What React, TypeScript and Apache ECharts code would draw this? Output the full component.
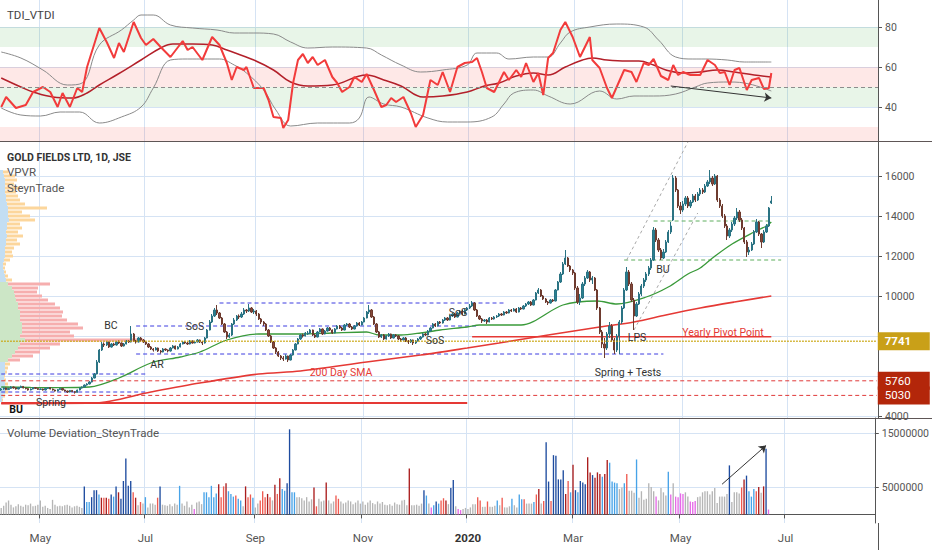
import React, { useEffect, useRef } from "react";
import * as echarts from "echarts";

const FONT = "Roboto, 'Liberation Sans', Arial, sans-serif";

// ---------- daily candles per month: [open, close, low, high] ----------
const apr19 = [[5300,5350,5260,5400],[5350,5400,5310,5440],[5400,5320,5290,5420],[5320,5380,5300,5410],[5380,5450,5350,5490],[5450,5400,5370,5470],[5400,5350,5320,5420],[5350,5420,5330,5450],[5420,5480,5400,5520],[5480,5400,5380,5500],[5400,5370,5330,5420],[5370,5300,5270,5390],[5300,5350,5280,5380],[5350,5420,5330,5450],[5420,5380,5350,5440],[5380,5330,5300,5400]];
const may19 = [[5330,5350,5300,5380],[5350,5300,5270,5370],[5300,5380,5280,5400],[5380,5420,5350,5450],[5420,5350,5330,5440],[5350,5300,5270,5370],[5300,5250,5220,5320],[5250,5320,5230,5350],[5320,5380,5300,5400],[5380,5300,5280,5400],[5300,5250,5220,5320],[5250,5200,5150,5270],[5200,5280,5180,5300],[5280,5220,5200,5300],[5220,5180,5120,5240],[5180,5300,5170,5320],[5300,5400,5280,5420],[5400,5450,5370,5480],[5450,5550,5430,5580],[5550,5600,5520,5640],[5600,5700,5580,5740],[5700,5900,5680,5950],[5900,6100,5880,6150]];
const jun19 = [[6100,6700,6080,6800],[6700,7300,6650,7350],[7300,7600,7250,7700],[7600,7550,7450,7680],[7550,7700,7500,7750],[7700,7450,7400,7720],[7450,7600,7420,7650],[7600,7550,7500,7660],[7550,7700,7520,7750],[7700,7650,7600,7780],[7650,7500,7450,7680],[7500,7600,7470,7650],[7600,7750,7580,7800],[7750,7700,7650,7800],[7700,8100,7680,8500],[8100,7750,7700,8150],[7750,7700,7620,7800],[7700,7900,7680,7950],[7900,7800,7720,7950],[7800,7700,7650,7850]];
const jul19 = [[7700,7600,7550,7720],[7600,7450,7400,7650],[7450,7350,7300,7500],[7350,7300,7220,7400],[7300,7400,7280,7450],[7400,7250,7200,7420],[7250,7200,7120,7300],[7200,7350,7180,7400],[7350,7300,7250,7380],[7300,7250,7180,7330],[7250,7400,7220,7450],[7400,7500,7380,7550],[7500,7350,7320,7520],[7350,7450,7330,7500],[7450,7600,7430,7650],[7600,7700,7580,7750],[7700,7650,7600,7730],[7650,7600,7550,7700],[7600,7750,7580,7800],[7750,7650,7620,7780],[7650,7700,7630,7760],[7700,7800,7680,7850],[7800,7700,7650,7820]];
const aug19 = [[7700,7650,7550,7750],[7650,7900,7620,7950],[7900,8300,7880,8350],[8300,8700,8280,8800],[8700,9000,8650,9100],[9000,9300,8950,9400],[9300,9150,9050,9550],[9150,8900,8850,9200],[8900,8600,8550,8950],[8600,8200,8150,8650],[8200,7950,7850,8250],[7950,8050,7900,8150],[8050,8600,8000,8650],[8600,8800,8550,8900],[8800,9000,8750,9050],[9000,8950,8850,9080],[8950,9100,8900,9200],[9100,9300,9050,9400],[9300,9250,9150,9350],[9250,9400,9200,9600],[9400,9200,9150,9450],[9200,9250,9100,9350]];
const sep19 = [[9250,9100,9000,9300],[9100,8850,8800,9150],[8850,8700,8600,8900],[8700,8600,8500,8750],[8600,8300,8250,8650],[8300,8000,7950,8350],[8000,7700,7650,8050],[7700,7400,7350,7750],[7400,7200,7100,7450],[7200,7000,6950,7250],[7000,6900,6800,7050],[6900,6850,6750,7000],[6850,7000,6820,7080],[7000,6800,6700,7020],[6800,7050,6780,7100],[7050,7300,7020,7350],[7300,7600,7280,7650],[7600,7850,7580,7900],[7850,8050,7800,8100],[8050,8000,7920,8120],[8000,8150,7980,8200]];
const oct19 = [[8100,8150,8050,8250],[8150,8300,8100,8350],[8300,8050,8000,8320],[8050,7950,7900,8100],[7950,8200,7930,8250],[8200,8350,8180,8400],[8350,8100,8050,8380],[8100,8250,8080,8300],[8250,8400,8220,8450],[8400,8300,8250,8450],[8300,8150,8100,8330],[8150,8350,8130,8400],[8350,8500,8330,8550],[8500,8400,8350,8550],[8400,8300,8250,8450],[8300,8550,8280,8600],[8550,8600,8500,8650],[8600,8450,8400,8650],[8450,8350,8300,8500],[8350,8500,8330,8550],[8500,8650,8480,8700],[8650,8550,8500,8700],[8550,8700,8530,8750]];
const nov19 = [[8700,8900,8680,8950],[8900,9200,8880,9250],[9200,9300,9100,9550],[9300,8950,8900,9350],[8950,8600,8550,9000],[8600,8200,8150,8650],[8200,7950,7900,8250],[7950,8050,7900,8100],[8050,7850,7800,8100],[7850,8000,7820,8050],[8000,8100,7950,8150],[8100,7900,7850,8120],[7900,8050,7880,8100],[8050,8000,7950,8100],[8000,7850,7800,8050],[7850,7800,7720,7900],[7800,7900,7780,7950],[7900,7750,7700,7950],[7750,7700,7600,7800],[7700,7800,7650,7850],[7800,7650,7550,7820]];
const dec19 = [[7650,7750,7600,7800],[7750,7850,7720,7900],[7850,7950,7800,8000],[7950,8100,7920,8150],[8100,8050,8000,8150],[8050,8250,8030,8300],[8250,8400,8220,8450],[8400,8600,8380,8650],[8600,8500,8450,8650],[8500,8700,8480,8750],[8700,8650,8600,8750],[8650,8800,8620,8850],[8800,8900,8750,8950],[8900,8800,8750,8950],[8800,9000,8780,9050],[9000,9100,8950,9150],[9100,8950,8900,9150],[8950,9150,8930,9200],[9150,9250,9100,9300],[9250,9100,9050,9300],[9100,9300,9080,9350],[9300,9400,9250,9450]];
const jan20 = [[9400,9500,9350,9600],[9500,9650,9450,9750],[9650,9300,9250,9700],[9300,9000,8950,9350],[9000,8850,8800,9050],[8850,8750,8650,8900],[8750,8800,8700,8850],[8800,8700,8600,8850],[8700,8900,8680,8950],[8900,8850,8800,8950],[8850,8950,8820,9000],[8950,9000,8900,9050],[9000,9100,8950,9150],[9100,9050,9000,9150],[9050,9200,9030,9250],[9200,9150,9100,9250],[9150,9300,9130,9350],[9300,9250,9200,9350],[9250,9350,9230,9400],[9350,9200,9150,9400],[9200,9400,9180,9450],[9400,9350,9300,9450],[9350,9500,9330,9550]];
const feb20 = [[9500,9600,9450,9650],[9600,9700,9550,9750],[9700,9550,9500,9750],[9550,9800,9530,9850],[9800,10150,9780,10200],[10150,10300,10100,10400],[10300,10000,9950,10350],[10000,9850,9800,10050],[9850,9700,9650,9900],[9700,9650,9550,9750],[9650,9800,9620,9850],[9800,9750,9700,9850],[9750,10300,9730,10350],[10300,10700,10280,10750],[10700,11100,10650,11200],[11100,11600,11050,11700],[11600,11900,11550,12300],[11900,11500,11450,11950],[11500,11300,11200,11550],[11300,11150,11050,11350]];
const mar20 = [[11150,10400,10300,11200],[10400,9700,9600,10500],[9700,9900,9550,10100],[9900,10600,9850,10700],[10600,10900,10500,11000],[10900,11200,10850,11300],[11200,10800,10700,11250],[10800,10900,10600,11000],[10900,10300,10250,10950],[10300,9400,9300,10350],[9400,8200,8100,9450],[8200,7600,7400,8300],[7600,7400,6900,7900],[7400,8100,7300,8200],[8100,8500,7900,8700],[8500,7800,7700,8600],[7800,7300,7100,7900],[7300,8000,7200,8100],[8000,8700,7100,8800],[8700,9400,8600,9500],[9400,10300,9350,10400],[10300,11200,10250,11450]];
const apr20 = [[11200,10600,10500,11300],[10600,9800,9700,10700],[9800,9000,8300,9900],[9000,9600,8950,9700],[9600,10100,9550,10200],[10100,10500,10000,10600],[10500,10800,10400,10900],[10800,11100,10700,11200],[11100,11400,11000,11500],[11400,11800,11300,11900],[11800,13300,11750,13450],[13300,12800,12700,13400],[12800,12300,12200,12900],[12300,11900,11800,12400],[11900,12200,11850,12350],[12200,12700,12150,12800],[12700,13200,12650,13300],[13200,13500,13100,13700],[13800,15900,13750,16050],[15900,15300,15200,16000],[15300,14500,14400,15350],[14500,14300,14100,14700]];
const may20 = [[14300,14600,14200,14750],[14600,14900,14500,15000],[14900,14500,14400,15000],[14500,14700,14400,14800],[14700,15000,14650,15100],[15000,14800,14700,15100],[14800,15100,14750,15200],[15100,15300,15000,15400],[15300,15200,15100,15400],[15200,15500,15150,15600],[15500,15700,15450,15800],[15700,15900,15600,16300],[15900,15600,15500,16000],[15600,16000,15550,16100],[16000,14800,14700,16050],[14800,14500,14400,14900],[14500,14000,13900,14600],[14000,13500,13400,14100],[13500,13000,12800,13600],[13000,13300,12900,13400],[13300,13600,13200,13700]];
const jun20 = [[13600,13900,13500,14000],[13900,14200,13800,14400],[14200,13800,13700,14300],[13800,13400,13300,13900],[13400,12700,12600,13450],[12700,12200,11950,12800],[12200,12300,12050,12450],[12300,12600,12250,12700],[12600,13200,12550,13300],[13200,13700,13150,13850],[13700,13100,13000,13750],[13100,12700,12400,13150],[12700,13200,12650,13300],[13200,13500,13150,13600],[13500,14400,13450,14450],[14650,14750,14600,15000]];

// ---------- moving averages: [barIndex, value] ----------
const sma50 = [[0,5450],[12,5430],[24,5420],[36,5450],[48,5900],[61,6650],[73,6950],[81,7200],[92,7800],[105,8100],[122,8100],[135,8150],[149,8200],[154,8050],[163,8050],[171,8150],[179,8300],[190,8450],[195,8550],[212,8550],[229,9550],[243,9750],[251,9600],[263,9950],[272,10450],[280,11100],[285,11400],[290,11900],[298,12600],[307,13200],[312,13500],[314,13700]];
const sma200 = [[0,4620],[38,4650],[61,5200],[81,5650],[105,6100],[122,6250],[149,6700],[171,7050],[190,7400],[203,7650],[223,8050],[244,8450],[258,8700],[271,9050],[285,9400],[299,9700],[314,10000]];

// ---------- TDI: [barIndex, value] ----------
const tdiPrice = [[0,40],[2,45],[6,39.5],[10,41],[13,47.5],[17,50],[20,47.5],[23,40],[25,47],[28,40],[31,49.5],[33,47.5],[35,60],[40,79.5],[43,72.5],[46,64.5],[48,72],[50,67.5],[54,82.5],[57,74.5],[59,71],[62,74],[65,70],[69,65],[74,73],[76,68.5],[78,70],[82,63.5],[86,75],[89,71],[92,62],[94,53.5],[96,60],[99,58.5],[100,60],[103,49.5],[107,49.5],[109,43.5],[111,35],[114,34.5],[115,29.5],[117,33.5],[119,52],[121,63.5],[123,66.5],[125,62],[127,65],[129,61],[132,63.5],[135,55],[137,52],[139,47.5],[142,50],[144,55],[147,52.5],[149,56.5],[152,48.5],[155,40],[157,41],[159,44.5],[161,42.5],[164,45],[167,37],[169,30],[172,36],[175,53.5],[178,51],[180,57.5],[183,47.5],[186,60],[189,62],[192,62.5],[194,64.5],[196,57.5],[198,49.5],[201,47.5],[205,57.5],[207,53.5],[210,58.5],[212,55],[214,62],[217,52.5],[219,57],[221,46],[223,64.5],[225,67],[228,78.5],[230,82.5],[233,75],[236,65],[240,75],[241,63.5],[244,59.5],[247,49.5],[249,44.5],[254,58.5],[257,57.5],[259,52.5],[262,62],[264,61],[266,64],[269,55.5],[272,53.5],[274,61],[276,56],[278,57.5],[281,56],[285,56],[288,63.5],[291,61],[293,57],[295,57.5],[297,51],[299,58.5],[301,59.5],[304,48.5],[306,53.5],[309,54.5],[311,49],[313,49.5],[314,57]];
const tdiSignal = [[0,54.5],[8,50],[13,47.5],[21,45],[29,44.5],[35,47],[40,51],[47,56],[57,63.5],[65,69.5],[70,71.5],[78,71.5],[86,71],[92,68.5],[103,63.5],[111,58.5],[118,52.5],[125,50.5],[135,51],[149,56],[156,53.5],[163,50.5],[172,45],[180,45.5],[190,47.5],[197,50.5],[203,52],[210,55.5],[217,57],[223,56],[230,60],[237,63.5],[241,64.5],[247,63.5],[255,63],[260,63],[266,61],[271,58.5],[278,57],[285,57.5],[292,58.5],[299,57.5],[307,56],[314,55]];
const tdiUpper = [[0,67.5],[8,64.5],[17,58.5],[27,51],[33,52],[40,71],[49,78.5],[54,83.5],[57,86],[62,86],[69,81],[78,79.5],[88,78.5],[95,77],[103,77],[111,76.5],[118,72.5],[125,69.5],[135,70],[149,69.5],[155,66],[163,61],[171,57.5],[180,58.5],[190,61],[194,67],[202,67],[207,64],[217,65],[223,65],[228,72],[232,77.5],[240,80],[251,81.5],[262,80],[268,73.5],[275,65],[282,64],[287,64],[296,63.5],[303,62.5],[314,62.5]];
const tdiLower = [[0,39.5],[8,36],[16,35.5],[24,37.5],[32,37.5],[40,32],[49,35],[57,40],[62,49.5],[69,63.5],[76,64],[89,64],[95,61],[100,57],[107,48.5],[112,38.5],[118,30.5],[129,32],[142,32],[146,34.5],[150,45],[156,41.5],[163,40],[174,34.5],[182,32.5],[190,32.5],[200,35],[205,41.5],[209,47],[217,48.5],[223,45.5],[232,41.5],[244,48],[251,44],[258,45.5],[266,45.5],[275,46.5],[283,50],[288,52],[297,52.5],[305,51.5],[314,48]];
const tdiZones = [[70, 80, "rgba(76,175,80,0.13)"], [50, 60, "rgba(244,67,54,0.12)"], [40, 50, "rgba(76,175,80,0.13)"], [23, 30, "rgba(244,67,54,0.12)"]];

// ---------- axis ticks ----------
const tdiTicks = [40, 60, 80];
const priceTicks = [4000, 6000, 8000, 10000, 12000, 14000, 16000];
const priceTickLabels = [4000, 10000, 12000, 14000, 16000]; // 6000 / 8000 sit under the level boxes
const volTicks = [5, 15]; // millions

// ---------- volume deviation (millions) + colour code ----------
const vol2019 = [1.2,1.6,2.2,2.6,1.8,1.3,1.5,1.9,1.6,1.4,1.8,1.7,2.0,1.5,1.6,1.8,2.6,1.4,1.6,1.2,1.0,2.7,1.8,1.5,1.6,1.5,1.7,1.8,1.6,1.3,1.5,1.6,1.4,1.2,
  5.2,2.3,2.3,3.2,4.5,4.5,3.7,3.1,3.1,3.1,2.9,3.7,3.3,5.2,4.1,2.9,6.2,10.4,5.3,6.2,4.1,3.1,1.7,2.3,2.0,3.2,1.3,2.0,2.0,1.8,3.1,5.2,1.8,
  1.7,1.6,1.9,1.5,2.0,1.8,5.3,2.0,1.6,2.4,1.3,1.8,1.0,2.2,2.4,1.9,4.1,4.1,3.2,5.3,3.2,3.9,5.6,3.2,5.2,5.8,4.3,3.8,3.3,3.5,2.9,2.6,1.5,
  5.2,3.2,3.7,3.1,1.3,2.0,2.6,4.3,3.2,3.8,3.2,2.6,5.5,3.8,6.7,4.7,4.4,5.8,15.8,4.1,4.1,3.2,3.2,3.0,2.6,3.2,2.4,2.8,5.0,1.5,2.9,2.4,2.6,5.9,2.6,2.0,2.4,3.5,2.9,
  2.4,2.0,2.2,2.6,2.4,1.9,2.2,2.6,2.0,2.4,1.8,2.2,2.6,2.1,1.9,2.4,2.0,2.3,1.8,1.7,1.9,1.6,2.2,1.9,1.8,2.6,2.7,1.7,
  8.5,1.7,1.7,1.8,1.6,2.0,4.5,3.5,2.0,1.3,1.7,2.4,2.0,2.6,3.0,2.6,1.9,4.9,6.4,1.5,1.0,0.8,1.0,1.2];
const volCode2019 = "gggggggggggggggggggggggggggggggggg BbbBBBbRrRrBbBRBBBBBrRgrgbggggrBg gggggg b ggggg m ggg bbbbbb RrrR bbbrbb g Rrrb gg rrrRr g RrRbbBBbb ggggggg Rr ggg R ggg rr gggggggggggggggggggggggggggg R ggggg Bb g m bBbrrR g BB g mm gg";
const vol2020 = [1.0,1.3,1.9,1.9,3.2,2.6,1.4,1.4,2.4,1.4,1.4,1.6,2.6,1.7,3.1,1.3,1.3,1.5,2.9,1.7,1.3,3.7,2.8,2.8,2.0,2.0,2.0,2.3,3.7,4.7,2.0,2.5,13.4,6.1,2.5,
  11.0,10.9,6.5,6.5,8.2,3.8,6.2,4.1,9.2,4.5,4.1,6.2,5.9,5.6,10.6,7.8,7.3,6.8,7.8,7.5,7.0,7.5,10.1,9.6,6.1,5.9,5.8,4.7,5.0,5.8,7.5,4.4,4.4,4.0,10.2,
  3.1,4.3,2.7,2.9,5.8,5.1,4.3,3.3,2.6,4.9,4.1,3.5,7.9,3.7,5.8,3.3,3.2,3.9,3.8,4.1,3.3,2.4,2.3,2.5,
  3.2,3.3,4.1,4.3,4.3,3.7,4.3,4.9,2.1,3.3,3.3,3.3,3.8,9.1,2.3,4.1,4.1,3.9,5.0,6.5,7.2,4.3,3.3,4.7,4.3,5.1,4.0,5.2,12.2,0.9];
const volCode2020 = "gggg rr gg r ggg b g r ggg b gg bb r ggg b r R g r BB r BBBBB R r b R B b BBB RR B RRR b RR bbbb gg b r ggg b ggggggg m gggg b m g mmmm gg mmm ggggggggggggg B gggg r R B bbb r R g R B m";
const volPalette = { g: "#b5b5b5", b: "#47a3e8", B: "#1d4b9f", r: "#ef5a50", R: "#ab1d1d", m: "#e66ae8" };

// ---------- VPVR rows: [price, up volume, total volume] ----------
const vpRows = [[16200,3,8],[16000,4,15],[15800,5,17],[15600,5,14],[15400,5,20],[15200,5,16],[15000,6,18],[14800,6,20],[14600,7,25],[14400,8,47],[14200,8,22],[14000,8,30],[13800,9,35],[13600,7,20],[13400,7,22],[13200,6,18],[13000,7,23],[12800,6,17],[12600,6,20],[12400,5,14],[12200,5,12],[12000,5,13],[11800,4,10],[11600,3,6],[11400,3,5],[11200,4,6],[11000,5,8],[10800,6,12],
  [10600,8,50],[10400,12,38],[10200,14,37],[10000,15,42],[9800,16,48],[9600,18,55],[9400,18,60],[9200,20,63],[9000,20,62],[8800,20,67],[8600,22,78],[8400,22,83],[8200,22,70],[8000,20,74],[7800,25,143],[7600,20,60],[7400,18,50],[7200,15,40],[7000,12,33],[6800,8,20],
  [6600,5,10],[6400,5,8],[6200,5,7],[6000,4,5],[5800,4,6],[5600,5,8],[5400,6,9],[5200,5,8],[5000,3,5],[4800,2,3]];
const VP_ROW = 200;
const VA_LOW = 6700;
const VA_HIGH = 10700;

// ---------- drawn levels: [fromBar, toBar, price] ----------
const rangeLines = [[0, 59, 6100], [0, 59, 5200], [55, 194, 8500], [89, 205, 9650], [55, 270, 7100]];
const buLine = [0, 190, 4650];
const pivotLine = [192, 314, 7960];
const greenLines = [[266, 313, 13750], [254, 318, 11800]];
const channelLines = [[255, 11800, 280, 17700], [258, 8300, 284, 14150]];
const supportLevels = [5760, 5030];
const pocLevel = 7741;
const tdiArrow = [273, 50.5, 314, 44.5];
const volArrow = [295, 5.6, 313, 12.8];

// ---------- trading-day categories ----------
const MONTHS = ["Jan","Feb","Mar","Apr","May","Jun","Jul","Aug","Sep","Oct","Nov","Dec"];
const N_DAYS = 358;
const days: string[] = [];
for (let t = Date.UTC(2019, 3, 9); days.length < N_DAYS; t += 86400000) {
  const d = new Date(t);
  const wd = d.getUTCDay();
  if (wd !== 0 && wd !== 6) days.push(d.toISOString().slice(0, 10));
}
const isMark = (i: number) => {
  if (i <= 0 || i >= days.length) return false;
  const m = +days[i].slice(5, 7);
  const pm = +days[i - 1].slice(5, 7);
  return m !== pm && m % 2 === 1;
};

const GRID = "#d5e3f4";
const AXIS = "#555555";

export default function App() {
  const ref = useRef<HTMLDivElement>(null);
  useEffect(() => {
    if (!ref.current) return;
    const chart = echarts.init(ref.current, null, { renderer: "svg" });

    const candles = [...apr19, ...may19, ...jun19, ...jul19, ...aug19, ...sep19, ...oct19, ...nov19, ...dec19, ...jan20, ...feb20, ...mar20, ...apr20, ...may20, ...jun20];
    const vols = [...vol2019, ...vol2020];
    const codes = (volCode2019 + volCode2020).replace(/\s+/g, "");
    const volData = vols.map((v, i) => ({ value: v, itemStyle: { color: (volPalette as any)[codes[i]] || volPalette.g } }));
    const LAST = days.length - 1;

    const segLine = (x1: number, y1: number, x2: number, y2: number, lineStyle: any, z = 4) => ({
      type: "line", xAxisIndex: 1, yAxisIndex: 1, data: [[x1, y1], [x2, y2]],
      showSymbol: false, symbol: "none", silent: true, z, lineStyle,
    });

    const levelLine = (v: number, lineStyle: any, box: string, bold = false) => ({
      type: "line", xAxisIndex: 1, yAxisIndex: 1, data: [[0, v], [LAST, v]],
      showSymbol: false, symbol: "none", silent: true, z: 6, lineStyle,
      endLabel: {
        show: true, formatter: String(v), distance: 1, color: "#fff", backgroundColor: box,
        padding: [3, 7], width: 38, fontSize: 11.5, fontWeight: bold ? "bold" : "normal", fontFamily: FONT,
      },
    });

    const seg = (x1: number, y1: number, x2: number, y2: number, lineStyle: any) => [
      { coord: [x1, y1], lineStyle }, { coord: [x2, y2], lineStyle },
    ];

    const blueDash = { color: "#3c3ce0", width: 1, type: [4, 3] };

    const catAxis = (g: number) => ({
      type: "category",
      gridIndex: g,
      data: days,
      boundaryGap: true,
      axisLine: { show: g === 2, lineStyle: { color: AXIS } },
      axisTick: { show: g === 2, interval: (i: number) => isMark(i), length: 4, lineStyle: { color: AXIS } },
      axisLabel: {
        show: g === 2,
        interval: (i: number) => isMark(i),
        color: "#555",
        fontSize: 11.5,
        margin: 9,
        fontFamily: FONT,
        formatter: (v: string) => {
          const m = +v.slice(5, 7);
          return m === 1 ? `{y|${v.slice(0, 4)}}` : MONTHS[m - 1];
        },
        rich: { y: { fontWeight: "bold", color: "#333", fontSize: 11.5, fontFamily: FONT } },
      },
      splitLine: { show: true, interval: (i: number) => isMark(i), lineStyle: { color: GRID } },
    });

    const plain = (v: number) => String(v);

    const valAxis = (g: number, min: number, max: number, ticks: number[], labels: number[], fmt: (v: number) => string = plain) => ({
      type: "value",
      gridIndex: g,
      position: "right",
      min,
      max,
      axisLine: { show: true, lineStyle: { color: AXIS } },
      axisTick: { show: true, length: 4, customValues: ticks, lineStyle: { color: AXIS } },
      axisLabel: { customValues: labels, color: "#555", fontSize: 10.5, margin: 7, fontFamily: FONT, formatter: fmt },
      splitLine: { show: true, lineStyle: { color: GRID } },
    });

    const textEl = (text: string, x: number, y: number, opts: any = {}) => ({
      type: "text",
      x,
      y,
      z: 100,
      style: {
        text,
        fill: opts.fill || "#333",
        font: `${opts.bold ? "bold " : ""}${opts.size || 10.5}px ${FONT}`,
        textAlign: opts.align || "center",
        textVerticalAlign: "middle",
      },
    });

    const option: any = {
      animation: false,
      backgroundColor: "#ffffff",
      textStyle: { fontFamily: FONT },
      grid: [
        { left: 0, right: 54, top: 0, height: 141 },
        { left: 0, right: 54, top: 141, height: 277 },
        { left: 0, right: 54, top: 418, height: 105 },
        { left: 0, right: 54, top: 141, height: 277 },
      ],
      xAxis: [catAxis(0), catAxis(1), catAxis(2), { type: "value", gridIndex: 3, min: 0, max: 878, show: false }],
      yAxis: [
        valAxis(0, 23, 93.5, tdiTicks, tdiTicks),
        valAxis(1, 3900, 17750, priceTicks, priceTickLabels),
        valAxis(2, -1.6, 17.9, volTicks, volTicks, (v: number) => String(Math.round(v * 1000000))),
        { type: "value", gridIndex: 3, min: 3900, max: 17750, show: false },
      ],
      series: [
        {
          type: "line", xAxisIndex: 0, yAxisIndex: 0, data: tdiUpper, showSymbol: false, smooth: 0.4, z: 2,
          lineStyle: { color: "#8a8a8a", width: 1 },
          markArea: { silent: true, data: tdiZones.map(([lo, hi, c]) => [{ yAxis: lo, itemStyle: { color: c } }, { yAxis: hi }]) },
        },
        { type: "line", xAxisIndex: 0, yAxisIndex: 0, data: tdiLower, showSymbol: false, smooth: 0.4, z: 2, lineStyle: { color: "#8a8a8a", width: 1 } },
        {
          type: "line", xAxisIndex: 0, yAxisIndex: 0, data: tdiSignal, showSymbol: false, smooth: 0.4, z: 3,
          lineStyle: { color: "#b3202a", width: 1.5 },
          markLine: { silent: true, symbol: ["none", "none"], label: { show: false }, lineStyle: { color: "#8c8c8c", type: [4, 3], width: 1 }, data: [{ yAxis: 50 }] },
        },
        {
          type: "line", xAxisIndex: 0, yAxisIndex: 0, data: tdiPrice, showSymbol: false, z: 4,
          lineStyle: { color: "#f23b3b", width: 2 },
          markLine: {
            silent: true, symbol: ["none", "arrow"], symbolSize: 7, label: { show: false },
            lineStyle: { color: "#333", width: 1, type: "solid" },
            data: [seg(tdiArrow[0], tdiArrow[1], tdiArrow[2], tdiArrow[3], { color: "#333", width: 1, type: "solid" })],
          },
        },
        {
          type: "custom", xAxisIndex: 3, yAxisIndex: 3, z: 1, silent: true,
          encode: { x: [1, 2], y: 0 },
          data: vpRows,
          renderItem: (params: any, api: any) => {
            const price = api.value(0);
            const up = api.value(1);
            const total = api.value(2);
            const top = api.coord([0, price + VP_ROW / 2]);
            const bot = api.coord([0, price - VP_ROW / 2]);
            const xUp = api.coord([up, price])[0];
            const xTot = api.coord([total, price])[0];
            const inVA = price >= VA_LOW && price <= VA_HIGH;
            const h = Math.max(1, bot[1] - top[1]);
            return {
              type: "group",
              children: [
                { type: "rect", shape: { x: top[0], y: top[1], width: xUp - top[0], height: h }, style: { fill: inVA ? "#cce6c6" : "#c3def3" } },
                { type: "rect", shape: { x: xUp, y: top[1] + 0.5, width: xTot - xUp, height: h - 1 }, style: { fill: inVA ? "#f6aeae" : "#fcd69c" } },
              ],
            };
          },
        },
        ...rangeLines.map(([a, b, p]) => segLine(a, p, b, p, blueDash)),
        segLine(buLine[0], buLine[2], buLine[1], buLine[2], { color: "#e53935", width: 2, type: "solid" }),
        segLine(pivotLine[0], pivotLine[2], pivotLine[1], pivotLine[2], { color: "#e53935", width: 1.5, type: "solid" }),
        ...greenLines.map(([a, b, p]) => segLine(a, p, b, p, { color: "#5fae5f", width: 1, type: [4, 3] })),
        ...channelLines.map(([a, p, b, q]) => segLine(a, p, b, q, { color: "#a8a8a8", width: 1, type: [3, 3] })),
        ...supportLevels.map((v) => levelLine(v, { color: "#e03a3a", width: 1, type: [4, 3] }, "#b3260a")),
        levelLine(pocLevel, { color: "#c9a50e", width: 1.5, type: "dotted" }, "#c9a018", true),
        {
          type: "candlestick", xAxisIndex: 1, yAxisIndex: 1, data: candles, z: 5, barWidth: "72%",
          itemStyle: { color: "#2a8092", color0: "#86493a", borderColor: "#2a7383", borderColor0: "#6e3b2f", borderWidth: 1 },
        },
        { type: "line", xAxisIndex: 1, yAxisIndex: 1, data: sma200, showSymbol: false, smooth: 0.3, z: 4, lineStyle: { color: "#e53935", width: 1.6 } },
        { type: "line", xAxisIndex: 1, yAxisIndex: 1, data: sma50, showSymbol: false, smooth: 0.3, z: 4, lineStyle: { color: "#3a9a3a", width: 1.3 } },
        {
          type: "bar", xAxisIndex: 2, yAxisIndex: 2, data: volData, barWidth: "55%", z: 3,
          markLine: {
            silent: true, symbol: ["none", "arrow"], symbolSize: 7, label: { show: false },
            lineStyle: { color: "#333", width: 1, type: "solid" },
            data: [seg(volArrow[0], volArrow[1], volArrow[2], volArrow[3], { color: "#333", width: 1, type: "solid" })],
          },
        },
      ],
      graphic: [
        { type: "line", z: 50, shape: { x1: 0, y1: 141.5, x2: 932, y2: 141.5 }, style: { stroke: "#5e5656", lineWidth: 1.2 } },
        { type: "line", z: 50, shape: { x1: 0, y1: 418.5, x2: 932, y2: 418.5 }, style: { stroke: "#5e5656", lineWidth: 1.2 } },
        { type: "line", z: 50, shape: { x1: 878.5, y1: 523, x2: 878.5, y2: 550 }, style: { stroke: AXIS, lineWidth: 1 } },
        textEl("TDI_VTDI", 7, 15, { align: "left", fill: "#444", size: 11.5 }),
        textEl("GOLD FIELDS LTD, 1D, JSE", 7, 157, { align: "left", bold: true, fill: "#333", size: 10.5 }),
        textEl("VPVR", 7, 172, { align: "left", fill: "#555", size: 11.5 }),
        textEl("SteynTrade", 7, 188, { align: "left", fill: "#555", size: 11.5 }),
        textEl("Volume Deviation_SteynTrade", 7, 433, { align: "left", fill: "#555", size: 11.5 }),
        textEl("BC", 111, 325),
        textEl("SoS", 195, 326),
        textEl("AR", 157, 364),
        textEl("200 Day SMA", 341, 372, { fill: "#e53935" }),
        textEl("Spring", 51, 402),
        textEl("BU", 16, 409, { bold: true, fill: "#111" }),
        textEl("SoS", 435, 340),
        textEl("SoS", 458, 312),
        textEl("LPS", 637, 337),
        textEl("BU", 663, 269),
        textEl("Spring + Tests", 628, 372),
        textEl("Yearly Pivot Point", 723, 332, { fill: "#e53935" }),
      ],
    };

    chart.setOption(option);
    return () => chart.dispose();
  }, []);

  return <div ref={ref} style={{ position: "absolute", left: 0, top: 0, width: 932, height: 550 }} />;
}
